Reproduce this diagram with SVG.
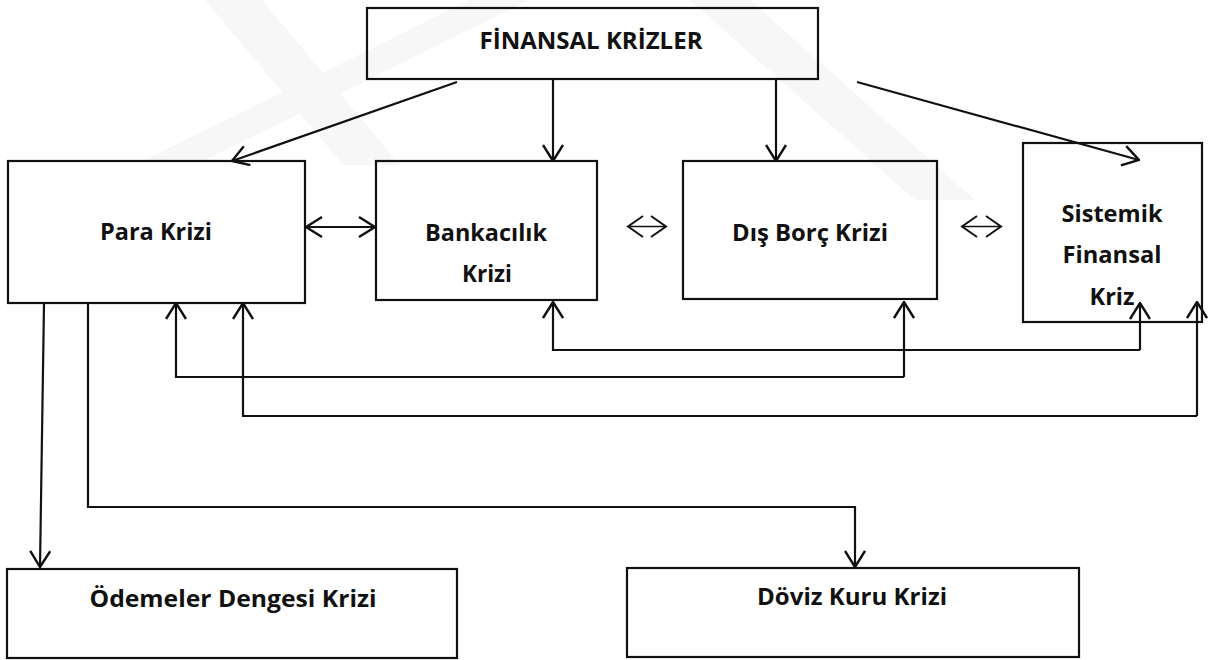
<svg xmlns="http://www.w3.org/2000/svg" width="1213" height="660" viewBox="0 0 1213 660">
<style>
.box{fill:none;stroke:#111;stroke-width:2.2}
.lbl{font-family:"Open Sans","Liberation Sans",sans-serif;font-weight:700;font-size:24px;fill:#111;text-anchor:middle}
.ln{fill:none;stroke:#111;stroke-width:2}
.arr{fill:none;stroke:#111;stroke-width:2.2;marker-end:url(#ah)}
.wm{fill:#f7f7f7}
</style>
<defs>
<marker id="ah" viewBox="0 0 18 22" refX="17" refY="11" markerWidth="18" markerHeight="22" markerUnits="userSpaceOnUse" orient="auto-start-reverse">
<path d="M1,1 L17,11 L1,21" fill="none" stroke="#111" stroke-width="2.4"/>
</marker>
</defs>
<rect width="1213" height="660" fill="#fff"/>
<g id="watermark">
<polygon class="wm" points="205,0 262,0 400,165 343,165"/>
<polygon class="wm" points="470,0 530,0 205,160 145,160"/>
<polygon class="wm" points="690,0 750,0 975,200 915,200"/>
</g>
<g id="connectors">
<line class="arr" x1="457" y1="82" x2="232" y2="161"/>
<line class="arr" x1="553" y1="80" x2="553" y2="161"/>
<line class="arr" x1="776" y1="80" x2="776" y2="161"/>
<line class="arr" x1="857" y1="82" x2="1139" y2="160"/>
<line class="arr" x1="306" y1="227" x2="375" y2="227" style="marker-start:url(#ah)"/>
<path class="ln" d="M643,216 L628,226.5 L643,237 M651,216 L666,226.5 L651,237" stroke-width="3.2"/>
<line x1="629" y1="226.5" x2="665" y2="226.5" stroke="#111" stroke-width="1.4"/>
<path class="ln" d="M977,216 L962,226.5 L977,237 M986,216 L1001,226.5 L986,237" stroke-width="3.2"/>
<line x1="963" y1="226.5" x2="1000" y2="226.5" stroke="#111" stroke-width="1.4"/>
<polyline class="arr" points="1140,350 553,350 553,302"/>
<line class="arr" x1="1140" y1="350" x2="1140" y2="303"/>
<polyline class="arr" points="904,377 176,377 176,303"/>
<line class="arr" x1="904" y1="377" x2="904" y2="302"/>
<polyline class="arr" points="1197,416 243,416 243,303"/>
<line class="arr" x1="1197" y1="416" x2="1197" y2="302"/>
<line class="arr" x1="44" y1="304" x2="40" y2="567"/>
<polyline class="arr" points="88,304 88,507 855,507 855,567"/>
</g>
<g id="n-finansal">
<rect class="box" x="367" y="8" width="451" height="71"/>
<text class="lbl" x="591" y="49" textLength="223" lengthAdjust="spacingAndGlyphs">FİNANSAL KRİZLER</text>
</g>
<g id="n-para">
<rect class="box" x="8" y="161" width="297" height="142"/>
<text class="lbl" x="156" y="240" textLength="112" lengthAdjust="spacingAndGlyphs">Para Krizi</text>
</g>
<g id="n-bank">
<rect class="box" x="376" y="161" width="221" height="139"/>
<text class="lbl" x="486" y="241" textLength="122" lengthAdjust="spacingAndGlyphs">Bankacılık</text>
<text class="lbl" x="487" y="282" textLength="50" lengthAdjust="spacingAndGlyphs">Krizi</text>
</g>
<g id="n-disborc">
<rect class="box" x="683" y="161" width="254" height="138"/>
<text class="lbl" x="810" y="241" textLength="156" lengthAdjust="spacingAndGlyphs">Dış Borç Krizi</text>
</g>
<g id="n-sistemik">
<rect class="box" x="1023" y="143" width="179" height="179"/>
<text class="lbl" x="1112" y="222" textLength="101" lengthAdjust="spacingAndGlyphs">Sistemik</text>
<text class="lbl" x="1112" y="263" textLength="99" lengthAdjust="spacingAndGlyphs">Finansal</text>
<text class="lbl" x="1112" y="305" textLength="45" lengthAdjust="spacingAndGlyphs">Kriz</text>
</g>
<g id="n-odemeler">
<rect class="box" x="7" y="569" width="450" height="89"/>
<text class="lbl" x="233" y="607" textLength="287" lengthAdjust="spacingAndGlyphs">Ödemeler Dengesi Krizi</text>
</g>
<g id="n-doviz">
<rect class="box" x="627" y="568" width="452" height="89"/>
<text class="lbl" x="852" y="605" textLength="190" lengthAdjust="spacingAndGlyphs">Döviz Kuru Krizi</text>
</g>
</svg>
